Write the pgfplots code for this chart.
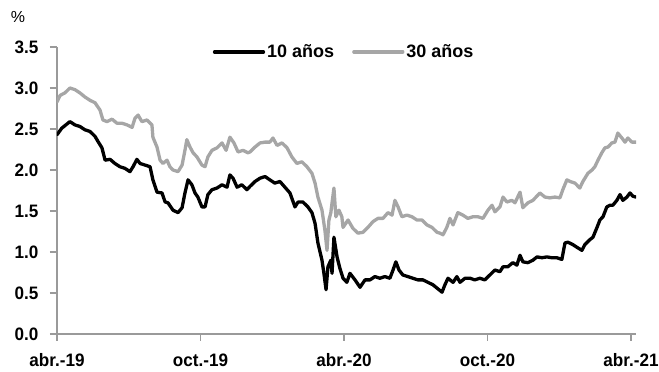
\documentclass[border=0pt]{standalone}
\usepackage{fontspec}
\setmainfont{Liberation Sans}
\newfontfamily\narrowfont{Liberation Sans}[FakeStretch=0.95]
\usepackage{pgfplots}
\pgfplotsset{compat=1.18}
\definecolor{lgray}{HTML}{A6A6A6}
\definecolor{axgray}{HTML}{9A9A9A}
\begin{document}
\begin{tikzpicture}[x=1pt,y=1pt]
\useasboundingbox (0,0) rectangle (659,372);
\node[font=\fontsize{16}{18}\selectfont] at (18,355) {\%};
\begin{axis}[
  at={(57pt,38pt)}, anchor=south west,
  scale only axis, width=579pt, height=287pt,
  xmin=0, xmax=24.21, ymin=0, ymax=3.5,
  axis x line*=bottom, axis y line*=left,
  axis line style={axgray, line width=1.2pt, -},
  tick style={axgray, line width=1.2pt},
  tick align=outside, major tick length=7pt,
  xtick={0,6,12,18,24},
  xticklabels={abr.-19,oct.-19,abr.-20,oct.-20,abr.-21},
  ytick={0,0.5,...,3.5},
  yticklabel style={xshift=-8pt, /pgf/number format/.cd, fixed, fixed zerofill, precision=1, assume math mode=true},
  xticklabel style={yshift=-9pt},
  ticklabel style={font=\narrowfont\fontsize{18}{20}\selectfont\bfseries, text=black},
  legend style={draw=none, fill=none, at={(0.496,0.983)}, anchor=center,
    legend columns=2, font=\fontsize{18}{20}\selectfont\bfseries,
    /tikz/every even column/.append style={column sep=16pt},
    inner sep=0pt},
  legend image code/.code={\draw[#1] (0pt,0pt) -- (49pt,0pt);},
  every axis plot/.append style={line join=round, line cap=round},
]
\addplot[black, line width=3.3pt] coordinates {
(0,2.43) (0.2,2.51) (0.54,2.59) (0.75,2.55) (0.96,2.53) (1.17,2.49) (1.38,2.47) (1.59,2.41)
(1.71,2.35) (1.88,2.27) (2.01,2.12) (2.22,2.13) (2.42,2.08) (2.63,2.04) (2.84,2.02) (3.05,1.98)
(3.18,2.04) (3.34,2.13) (3.47,2.08) (3.68,2.06) (3.89,2.04) (4.01,1.88) (4.18,1.73) (4.39,1.72)
(4.52,1.61) (4.64,1.60) (4.85,1.51) (5.06,1.48) (5.23,1.54) (5.35,1.72) (5.48,1.88) (5.64,1.82)
(5.77,1.72) (5.89,1.67) (6.06,1.55) (6.19,1.55) (6.31,1.70) (6.48,1.76) (6.69,1.78) (6.90,1.82)
(7.11,1.79) (7.23,1.94) (7.36,1.90) (7.53,1.79) (7.73,1.82) (7.94,1.76) (8.07,1.80) (8.28,1.86)
(8.49,1.90) (8.70,1.92) (8.90,1.88) (9.11,1.84) (9.32,1.86) (9.53,1.79) (9.74,1.72) (9.95,1.55)
(10.08,1.61) (10.28,1.61) (10.49,1.55) (10.66,1.48) (10.79,1.35) (10.91,1.11) (11.08,0.90) (11.16,0.74)
(11.25,0.54) (11.33,0.82) (11.45,0.90) (11.50,0.74) (11.58,1.18) (11.71,0.94) (11.83,0.80) (11.96,0.68)
(12.12,0.63) (12.25,0.74) (12.46,0.66) (12.67,0.57) (12.88,0.66) (13.09,0.66) (13.29,0.70) (13.50,0.68)
(13.71,0.70) (13.92,0.68) (14.05,0.78) (14.17,0.88) (14.30,0.78) (14.46,0.72) (14.67,0.70) (14.88,0.68)
(15.09,0.66) (15.30,0.66) (15.51,0.63) (15.72,0.60) (15.93,0.55) (16.10,0.51) (16.22,0.60) (16.35,0.68)
(16.56,0.63) (16.72,0.70) (16.85,0.63) (17.06,0.68) (17.27,0.68) (17.47,0.66) (17.68,0.68) (17.89,0.66)
(18.10,0.72) (18.31,0.78) (18.52,0.76) (18.65,0.82) (18.85,0.82) (19.06,0.87) (19.23,0.84) (19.36,0.96)
(19.48,0.88) (19.69,0.87) (19.90,0.90) (20.07,0.94) (20.28,0.93) (20.48,0.94) (20.69,0.93) (20.90,0.93)
(21.11,0.91) (21.24,1.11) (21.36,1.12) (21.57,1.09) (21.78,1.05) (21.95,1.02) (22.07,1.09) (22.28,1.15)
(22.41,1.18) (22.58,1.30) (22.70,1.39) (22.83,1.43) (22.99,1.55) (23.12,1.57) (23.24,1.57) (23.41,1.63)
(23.54,1.70) (23.66,1.63) (23.83,1.67) (23.96,1.72) (24.08,1.68) (24.21,1.67)
};
\addlegendentry{10 años}
\addplot[lgray, line width=3.3pt] coordinates {
(0,2.83) (0.13,2.91) (0.33,2.94) (0.54,3.00) (0.75,2.98) (0.96,2.94) (1.17,2.89) (1.38,2.85)
(1.59,2.82) (1.80,2.73) (1.92,2.61) (2.09,2.59) (2.30,2.62) (2.51,2.57) (2.72,2.57) (2.93,2.55)
(3.14,2.52) (3.26,2.63) (3.39,2.67) (3.55,2.59) (3.76,2.61) (3.97,2.55) (4.01,2.40) (4.18,2.28)
(4.31,2.12) (4.43,2.08) (4.60,2.12) (4.72,2.04) (4.85,2.00) (5.06,1.98) (5.23,2.06) (5.35,2.24)
(5.43,2.37) (5.56,2.28) (5.69,2.21) (5.85,2.16) (6.06,2.06) (6.19,2.04) (6.31,2.16) (6.48,2.24)
(6.69,2.27) (6.90,2.33) (7.07,2.24) (7.23,2.40) (7.40,2.33) (7.57,2.22) (7.78,2.24) (7.98,2.21)
(8.07,2.22) (8.28,2.28) (8.49,2.33) (8.70,2.34) (8.90,2.34) (9.03,2.39) (9.20,2.30) (9.41,2.33)
(9.62,2.27) (9.82,2.16) (10.03,2.08) (10.24,2.10) (10.45,2.04) (10.66,1.96) (10.79,1.84) (10.91,1.67)
(11.08,1.51) (11.20,1.27) (11.29,1.02) (11.37,1.39) (11.45,1.48) (11.50,1.60) (11.58,1.78) (11.66,1.43)
(11.79,1.51) (11.91,1.43) (11.96,1.30) (12.17,1.39) (12.37,1.29) (12.58,1.23) (12.79,1.24) (13.00,1.30)
(13.21,1.37) (13.42,1.41) (13.63,1.41) (13.84,1.48) (14.01,1.45) (14.13,1.63) (14.26,1.55) (14.42,1.43)
(14.63,1.45) (14.84,1.43) (15.05,1.39) (15.26,1.39) (15.47,1.33) (15.68,1.30) (15.89,1.24) (16.01,1.23)
(16.14,1.21) (16.30,1.30) (16.43,1.41) (16.56,1.33) (16.76,1.48) (16.97,1.45) (17.18,1.41) (17.39,1.43)
(17.60,1.43) (17.81,1.41) (18.02,1.51) (18.19,1.57) (18.31,1.49) (18.52,1.55) (18.65,1.67) (18.81,1.61)
(19.02,1.63) (19.15,1.60) (19.36,1.73) (19.48,1.54) (19.69,1.60) (19.90,1.63) (20.19,1.72) (20.40,1.67)
(20.61,1.66) (20.82,1.67) (21.03,1.66) (21.15,1.76) (21.32,1.88) (21.45,1.86) (21.66,1.84) (21.86,1.78)
(21.99,1.86) (22.20,1.96) (22.37,2.00) (22.49,2.04) (22.62,2.12) (22.78,2.21) (22.91,2.27) (23.04,2.28)
(23.20,2.33) (23.33,2.34) (23.45,2.45) (23.62,2.39) (23.75,2.34) (23.87,2.39) (24.04,2.34) (24.21,2.34)
};
\addlegendentry{30 años}
\end{axis}
\end{tikzpicture}
\end{document}
